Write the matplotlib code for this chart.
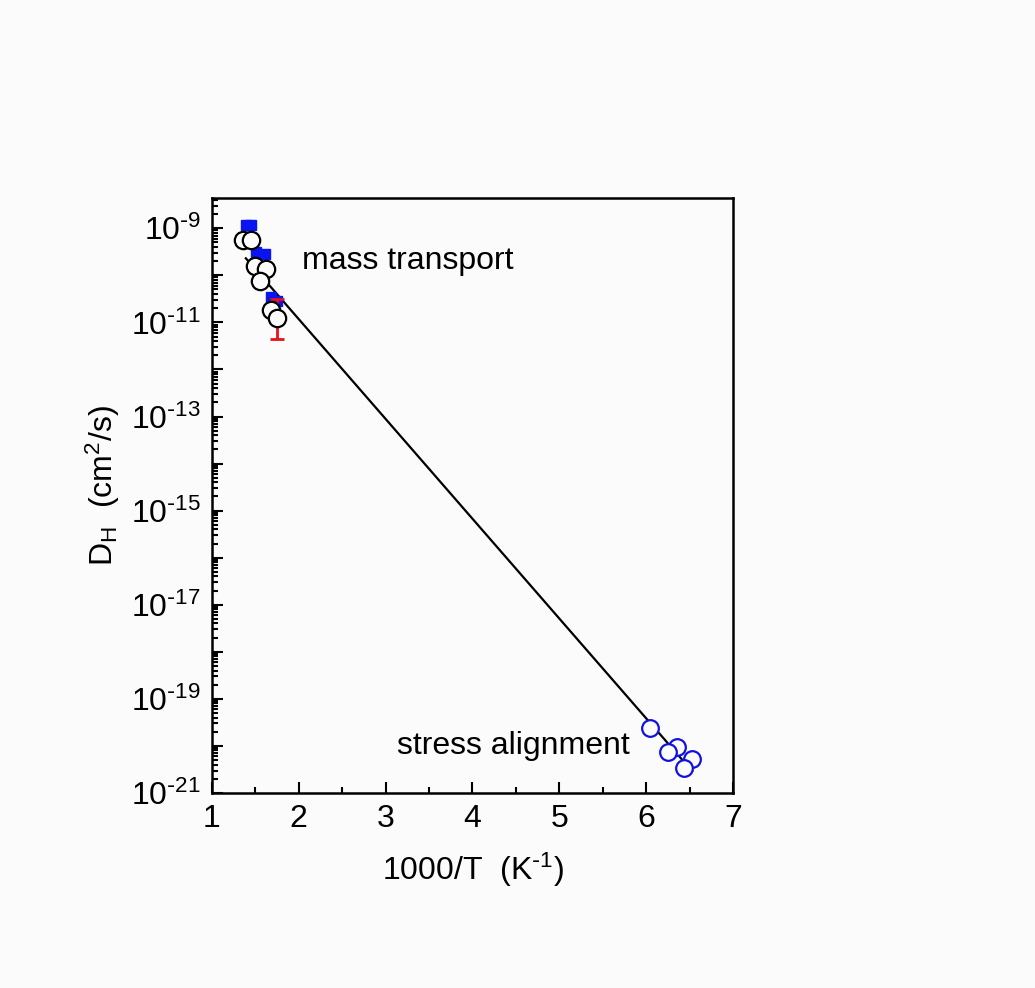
import math

import matplotlib
matplotlib.use("Agg")
import matplotlib.pyplot as plt
from matplotlib.ticker import FixedLocator, FuncFormatter, LogLocator, MultipleLocator

plt.rcParams["font.family"] = ["Liberation Sans", "DejaVu Sans"]
plt.rcParams["mathtext.default"] = "regular"

# hydrogen diffusivity vs inverse temperature
sq_x = [1.39, 1.45, 1.51, 1.61, 1.68, 1.75]
sq_y = [1.16e-9, 1.16e-9, 3.2e-10, 2.9e-10, 3.4e-11, 2.8e-11]

mt_x = [1.36, 1.45, 1.49, 1.62, 1.55, 1.68, 1.75]
mt_y = [5.6e-10, 5.7e-10, 1.55e-10, 1.39e-10, 7.6e-11, 1.8e-11, 1.26e-11]

# error bar on the lowest-temperature mass transport point
err_x = 1.75
err_y = 1.26e-11
err_lo = 4.4e-12
err_hi = 3.2e-11

sa_x = [6.05, 6.36, 6.25, 6.53, 6.44]
sa_y = [2.45e-20, 9.6e-21, 7.4e-21, 5.2e-21, 3.4e-21]

# Arrhenius fit drawn between its end points
fit_x = [1.39, 6.53]
fit_y = [2.3e-10, 2.9e-21]

BG = "#fbfbfb"
FS = 23

fig = plt.figure(figsize=(10.35, 9.88), dpi=100, facecolor=BG)
ax = fig.add_axes([0.2048, 0.1974, 0.5034, 0.6022], facecolor=BG)

ax.plot(fit_x, fit_y, color="black", lw=1.6, zorder=2)
ax.plot(sq_x, sq_y, "s", color="#0a14f0", ms=7, mec="#0a14f0", zorder=3)
ax.errorbar([err_x], [err_y], yerr=[[err_y - err_lo], [err_hi - err_y]],
            fmt="none", ecolor="#e8101a", elinewidth=2, capsize=5, capthick=2, zorder=4)
for x, y in zip(mt_x, mt_y):
    ax.plot(x, y, "o", ms=12.5, mfc=BG, mec="black", mew=1.6, zorder=5)
for x, y in zip(sa_x, sa_y):
    ax.plot(x, y, "o", ms=12, mfc=BG, mec="#1010e0", mew=1.6, zorder=5)

ax.set_yscale("log")
ax.set_xlim(1, 7)
ax.set_ylim(1e-21, 4.4e-9)

ax.xaxis.set_major_locator(MultipleLocator(1))
ax.xaxis.set_minor_locator(MultipleLocator(0.5))
ax.yaxis.set_major_locator(FixedLocator([10.0 ** e for e in range(-21, -8)]))
ax.yaxis.set_minor_locator(LogLocator(base=10, subs=range(2, 10), numticks=50))


def ylab(v, pos):
    e = int(round(math.log10(v)))
    return r"$10^{\text{-}%d}$" % -e if e % 2 else ""


ax.yaxis.set_major_formatter(FuncFormatter(ylab))
ax.xaxis.set_major_formatter(FuncFormatter(lambda v, p: "%d" % v))

ax.tick_params(which="both", direction="in", top=False, right=False,
               labelsize=FS, width=1.5)
ax.tick_params(which="major", length=8, pad=8)
ax.tick_params(which="minor", length=4.5)
for s in ax.spines.values():
    s.set_linewidth(1.8)

ax.set_xlabel(r"1000/T  (K$^{\text{-}1}$)", fontsize=FS, labelpad=12)
ax.set_ylabel(r"D$_H$  (cm$^2$/s)", fontsize=FS)
ax.yaxis.set_label_coords(-0.173, 0.516)

ax.text(3.25, 2.0e-10, "mass transport", fontsize=FS, ha="center", va="center")
ax.text(4.47, 1.0e-20, "stress alignment", fontsize=FS, ha="center", va="center")

fig.savefig("out.png", dpi=100, facecolor=BG)
